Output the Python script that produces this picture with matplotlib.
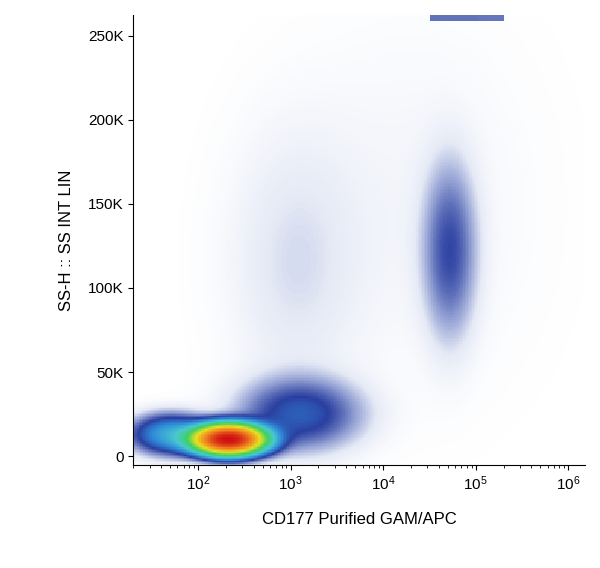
import numpy as np
import matplotlib.pyplot as plt
from matplotlib.colors import LinearSegmentedColormap

plt.rcParams['font.family'] = ['Liberation Sans', 'DejaVu Sans']

# populations: log10(x) centre, y centre (K), spreads, relative weight
pop_names = ["debris", "debris tail", "low smear", "CD177+ cluster", "mid cloud", "background"]
pop_logx = [2.33, 1.7, 3.1, 4.72, 3.05, 4.3]
pop_y = [10, 13, 25, 122, 115, 150]
pop_sx = [0.22, 0.25, 0.40, 0.18, 0.45, 0.85]
pop_sy = [5, 7, 13, 32, 50, 70]
pop_w = [60, 4, 2.0, 1.4, 0.3, 0.1]

lx = np.linspace(1.3, 6.2, 300)
yk = np.linspace(-5, 262, 300)
LX, YK = np.meshgrid(lx, yk)
dens = np.zeros_like(LX)
for cx, cy, sx, sy, w in zip(pop_logx, pop_y, pop_sx, pop_sy, pop_w):
    dens += w * np.exp(-0.5 * (((LX - cx) / sx) ** 2 + ((YK - cy) / sy) ** 2))
# saturated events on the top edge
top = (YK > 259) & (LX > 4.5) & (LX < 5.3)
dens[top] += 1.0

cmap = LinearSegmentedColormap.from_list(
    "flow", ["#ffffff", "#e4e9f5", "#8c9ad0", "#2a3fa0", "#2f8ad8", "#48c8d0",
             "#40d060", "#e8e020", "#f08020", "#d01010"])
level = np.log10(1 + dens * 3) / np.log10(1 + 60 * 3)
level = np.clip(level, 0, 1)

fig, ax = plt.subplots(figsize=(6.0, 5.68), dpi=100)
fig.subplots_adjust(left=0.222, right=0.975, bottom=0.182, top=0.973)
ax.pcolormesh(10 ** LX, YK * 1000, level, cmap=cmap, vmin=0, vmax=1, shading="auto")
ax.set_xscale("log")
ax.set_xlim(10 ** 1.3, 10 ** 6.18)
ax.set_ylim(-5000, 262000)
ax.set_xticks([1e2, 1e3, 1e4, 1e5, 1e6])
ax.set_yticks([0, 50000, 100000, 150000, 200000, 250000])
ax.set_yticklabels(["0", "50K", "100K", "150K", "200K", "250K"])
ax.spines["top"].set_visible(False)
ax.spines["right"].set_visible(False)
ax.tick_params(direction="out", labelsize=11)
ax.set_xlabel("CD177 Purified GAM/APC", fontsize=12, labelpad=14)
ax.set_ylabel("SS-H :: SS INT LIN", fontsize=12, labelpad=10)
fig.savefig("out.png")
